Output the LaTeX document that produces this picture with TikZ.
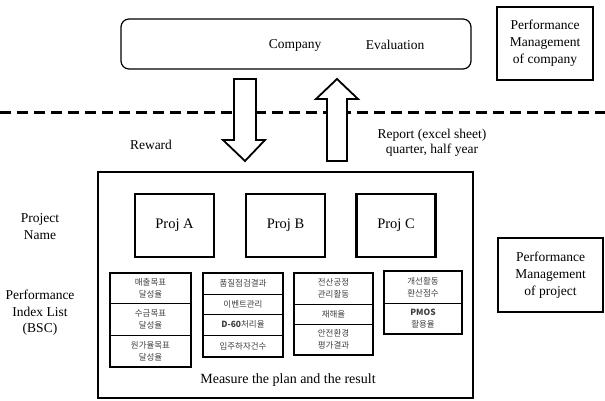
\documentclass[tikz,border=0pt]{standalone}
\usepackage{fontspec}
\usetikzlibrary{positioning}
\setmainfont{Liberation Serif}
\newfontfamily\kor{Noto Sans CJK KR}
\begin{document}
\begin{tikzpicture}[x=1pt,y=-1pt,
  lbl/.style={font=\fontsize{13.5}{16.5}\selectfont, align=center, inner sep=0pt},
  sidebox/.style={draw, line width=2pt, inner sep=0pt, align=center,
    font=\fontsize{13.5}{17}\selectfont},
  projbox/.style={draw, line width=2.4pt, inner sep=0pt, minimum width=79pt,
    minimum height=63pt, font=\fontsize{14.5}{17}\selectfont},
  cell/.style={draw, line width=0.9pt, inner sep=0pt, outer sep=0pt, align=center,
    text=black!75, font=\kor\fontsize{8.5}{12}\selectfont},
  colframe/.style={draw, line width=2pt},
  blockarrow/.style={draw, line width=1.8pt, fill=white, line join=miter},
]
\useasboundingbox (0,0) rectangle (605,401);

% company level
\node[draw, rounded corners=8pt, line width=1.2pt, minimum width=350pt,
  minimum height=50pt, inner sep=0pt] (company) at (296,44) {};
\node[lbl] (comptxt) at (295,45) {Company};
\node[lbl] (evaltxt) at (395,45) {Evaluation};
\node[sidebox, minimum width=96pt, minimum height=73pt] (pmcompany) at (545,43.5)
  {Performance\\Management\\of company};

% boundary between company and project level
\coordinate (dl) at (0,113);
\coordinate (dr) at (605,113);
\draw[line width=3pt, dash pattern=on 11pt off 6pt] (dl) -- (dr);

% project level frame
\node[draw, line width=2.4pt, minimum width=375pt, minimum height=226pt,
  inner sep=0pt] (project) at (285.5,285) {};

% reward arrow (down) and report arrow (up)
\draw[blockarrow] (234,79) -- (256,79) -- (256,140) -- (265,140) -- (245,161)
  -- (223,140) -- (234,140) -- cycle;
\draw[blockarrow] (327,161) -- (347,161) -- (347,99) -- (358,99) -- (337,79)
  -- (316,99) -- (327,99) -- cycle;
\node[lbl] (reward) at (151,145) {Reward};
\node[lbl, font=\fontsize{13.5}{15.5}\selectfont] (report) at (432,143)
  {Report (excel sheet)\\quarter, half year};

% row labels
\node[lbl, font=\fontsize{13.5}{17}\selectfont] (projname) at (40,227) {Project\\Name};
\node[lbl, font=\fontsize{13.5}{16.5}\selectfont] (pil) at (40,313)
  {Performance\\Index List\\(BSC)};

% projects
\node[projbox] (pa) at (174.5,225.5) {Proj A};
\node[projbox] (pb) at (285.5,225.5) {Proj B};
\node[projbox] (pc) at (396,225.5) {Proj C};

% index list of project A
\node[cell, minimum width=81pt, minimum height=30pt] (a1) at (150.5,288) {매출목표\\달성율};
\node[cell, minimum width=81pt, minimum height=32pt, below=0pt of a1] (a2) {수금목표\\달성율};
\node[cell, minimum width=81pt, minimum height=32pt, below=0pt of a2] (a3) {원가율목표\\달성율};
\draw[colframe] (a1.north west) rectangle (a3.south east);

% index list of project B
\node[cell, minimum width=80pt, minimum height=21pt] (b1) at (243,283.5) {품질점검결과};
\node[cell, minimum width=80pt, minimum height=20pt, below=0pt of b1] (b2) {이벤트관리};
\node[cell, minimum width=80pt, minimum height=21pt, below=0pt of b2] (b3) {\bfseries D-60\mdseries 처리율};
\node[cell, minimum width=80pt, minimum height=22pt, below=0pt of b3] (b4) {입주하자건수};
\draw[colframe] (b1.north west) rectangle (b4.south east);

% index list of project C
\node[cell, minimum width=79pt, minimum height=31pt] (c1) at (333.5,288.5) {전산공정\\관리활동};
\node[cell, minimum width=79pt, minimum height=20pt, below=0pt of c1] (c2) {재해율};
\node[cell, minimum width=79pt, minimum height=31pt, below=0pt of c2] (c3) {안전환경\\평가결과};
\draw[colframe] (c1.north west) rectangle (c3.south east);

% common indices
\node[cell, minimum width=78pt, minimum height=32pt] (d1) at (423,287) {개선활동\\환산점수};
\node[cell, minimum width=78pt, minimum height=31pt, below=0pt of d1] (d2) {{\bfseries PMOS}\\활용율};
\draw[colframe] (d1.north west) rectangle (d2.south east);

\node[lbl, font=\fontsize{14}{16}\selectfont] (measure) at (288,380)
  {Measure the plan and the result};

\node[sidebox, minimum width=105pt, minimum height=74pt] (pmproject) at (550.5,275)
  {Performance\\Management\\of project};
\end{tikzpicture}
\end{document}
